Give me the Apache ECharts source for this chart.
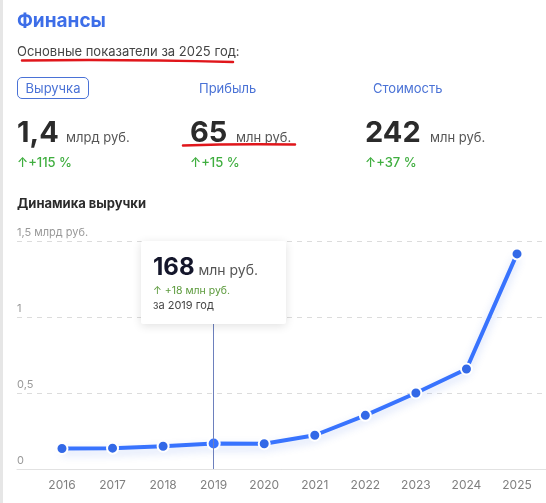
<!DOCTYPE html>
<html lang="ru">
<head>
<meta charset="utf-8">
<title>Финансы</title>
<script src="https://cdn.jsdelivr.net/npm/echarts@6/dist/echarts.min.js"></script>
<style>
  html, body {
    margin: 0;
    padding: 0;
    width: 546px;
    height: 503px;
    overflow: hidden;
    background: #fff;
    font-family: Inter, 'Noto Sans', sans-serif;
  }
  .strip {
    position: absolute;
    left: 0; top: 0;
    width: 3px; height: 503px;
    background: #e6e6e6;
  }
  .t {
    position: absolute;
    line-height: 1;
    white-space: nowrap;
  }
  .title { left: 17px; top: 11px; font-size: 19px; font-weight: 700; color: #3d6ee8; }
  .sub { left: 17px; top: 45px; font-size: 13px; color: #444; }
  .tab { font-size: 13px; color: #4a72d6; top: 82px; }
  .tab.active {
    left: 17px; top: 77px;
    width: 70px; height: 20px;
    border: 1px solid #4a72d6;
    border-radius: 5px;
    text-align: center;
    line-height: 20px;
  }
  .big { font-size: 29px; font-weight: 700; color: #2b2b2b; top: 117px; }
  .unit { font-size: 13px; color: #555; top: 131px; }
  .grow { font-size: 13px; font-weight: 500; color: #3fae3f; top: 156px; }
  .h2 { left: 17px; top: 197px; font-size: 13px; font-weight: 700; color: #2b2b2b; }
  #chart {
    position: absolute;
    left: 0; top: 0;
    width: 546px; height: 503px;
  }
  svg.marks { position: absolute; left: 0; top: 0; pointer-events: none; }
</style>
</head>
<body>
<div class="strip"></div>
<div id="chart"></div>

<div class="t title">Финансы</div>
<div class="t sub">Основные показатели за 2025 год:</div>

<div class="t tab active">Выручка</div>
<div class="t tab" style="left:199px">Прибыль</div>
<div class="t tab" style="left:373px">Стоимость</div>

<div class="t big" style="left:17px">1,4</div>
<div class="t unit" style="left:66px">млрд руб.</div>
<div class="t big" style="left:190px">65</div>
<div class="t unit" style="left:236px">млн руб.</div>
<div class="t big" style="left:365px">242</div>
<div class="t unit" style="left:430px">млн руб.</div>

<div class="t grow" style="left:17px">↑+115 %</div>
<div class="t grow" style="left:190px">↑+15 %</div>
<div class="t grow" style="left:365px">↑+37 %</div>

<div class="t h2">Динамика выручки</div>

<svg class="marks" width="546" height="503">
  <path d="M22 60.5 Q 120 59 233 62" stroke="#e0161b" stroke-width="2.5" fill="none" stroke-linecap="round"/>
  <path d="M183 145.5 Q 240 143.5 295 144.5" stroke="#e0161b" stroke-width="2.5" fill="none" stroke-linecap="round"/>
</svg>

<script>
  // данные (млрд руб.)
  const years = ['2016', '2017', '2018', '2019', '2020', '2021', '2022', '2023', '2024', '2025'];
  const revenue = [0.135, 0.137, 0.150, 0.168, 0.166, 0.222, 0.353, 0.500, 0.658, 1.415];
  const yTickLabels = ['0', '0,5', '1', '1,5 млрд руб.'];
  const yStep = 0.5;
  const shownIndex = 3;

  const chart = echarts.init(document.getElementById('chart'));

  const option = {
    animation: false,
    textStyle: { fontFamily: 'Inter, sans-serif' },
    grid: [
      { left: 17, right: 0, top: 241, bottom: 34 },
      { left: 36.7, right: 3.7, top: 241, bottom: 34 }
    ],
    tooltip: {
      trigger: 'axis',
      triggerOn: 'none',
      alwaysShowContent: true,
      transitionDuration: 0,
      position: [141, 241],
      backgroundColor: '#fff',
      borderWidth: 0,
      padding: [14, 12],
      extraCssText: 'width:145px;height:83px;box-sizing:border-box;border-radius:2px;box-shadow:0 2px 10px rgba(0,0,0,0.12);',
      axisPointer: {
        type: 'line',
        lineStyle: { color: '#6d80bd', width: 1, type: 'solid' }
      },
      formatter: function (params) {
        const i = params[0].dataIndex;
        const val = Math.round(revenue[i] * 1000);
        const diff = i > 0 ? Math.round((revenue[i] - revenue[i - 1]) * 1000) : 0;
        return '<div style="line-height:1;font-family:Inter,sans-serif">' +
          '<span style="font-size:24px;font-weight:700;color:#14162b">' + val + '</span>' +
          '<span style="font-size:14px;color:#555"> млн руб.</span>' +
          '<div style="font-size:10.5px;color:#5c9a3c;margin-top:7px">↑ +' + diff + ' млн руб.</div>' +
          '<div style="font-size:11px;color:#444;margin-top:3px">за ' + years[i] + ' год</div>' +
          '</div>';
      }
    },
    xAxis: [
      {
        type: 'value',
        gridIndex: 0,
        min: 0,
        max: 1,
        axisLine: { show: true, lineStyle: { color: '#e2e2e2' } },
        axisTick: { show: false },
        axisLabel: { show: false },
        splitLine: { show: false },
        axisPointer: { show: false }
      },
      {
        type: 'category',
        gridIndex: 1,
        data: years,
        boundaryGap: true,
        axisLine: { show: false },
        axisTick: { show: false },
        axisLabel: { color: '#808080', fontSize: 12, margin: 10 }
      }
    ],
    yAxis: [
      {
        type: 'value',
        gridIndex: 0,
        min: 0,
        max: 1.5,
        interval: yStep,
        axisLine: { show: false },
        axisTick: { show: false },
        axisPointer: { show: false },
        axisLabel: {
          inside: true,
          margin: 0,
          color: '#999',
          fontSize: 11,
          verticalAlign: 'bottom',
          padding: [0, 0, 3, 0],
          formatter: function (v) {
            return yTickLabels[Math.round(v / yStep)];
          }
        },
        splitLine: {
          lineStyle: { color: '#dcdcdc', type: [5, 5] }
        }
      },
      {
        type: 'value',
        gridIndex: 1,
        min: 0,
        max: 1.5,
        show: false
      }
    ],
    series: [
      {
        name: 'Выручка',
        type: 'line',
        xAxisIndex: 1,
        yAxisIndex: 1,
        data: revenue,
        symbol: 'circle',
        symbolSize: 11,
        itemStyle: {
          color: '#3369e7',
          borderColor: '#fff',
          borderWidth: 2
        },
        lineStyle: {
          color: '#3369e7',
          width: 4,
          shadowColor: 'rgba(51, 105, 231, 0.25)',
          shadowBlur: 8,
          shadowOffsetY: 4
        }
      }
    ]
  };

  chart.setOption(option);
  chart.dispatchAction({ type: 'showTip', seriesIndex: 0, dataIndex: shownIndex });
</script>
</body>
</html>
